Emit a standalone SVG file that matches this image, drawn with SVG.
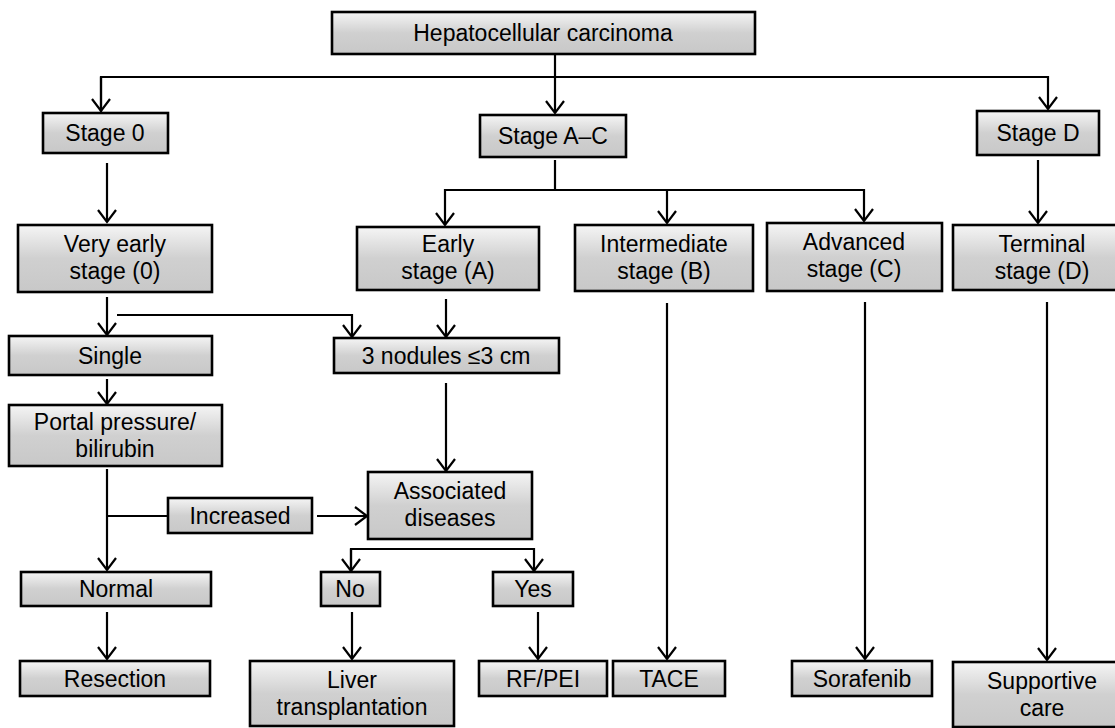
<svg xmlns="http://www.w3.org/2000/svg" width="1115" height="728" viewBox="0 0 1115 728">
<defs>
<linearGradient id="g" x1="0" y1="0" x2="0" y2="1">
<stop offset="0" stop-color="#f5f5f5"/>
<stop offset="0.5" stop-color="#d0d0d0"/>
<stop offset="1" stop-color="#c8c8c8"/>
</linearGradient>
<marker id="a" markerUnits="userSpaceOnUse" viewBox="-15 -12 17 24" markerWidth="17" markerHeight="24" refX="0" refY="0" orient="auto" overflow="visible">
<path d="M-12,-9 L0,0 L-12,9" fill="none" stroke="#000" stroke-width="2.2"/>
</marker>
</defs>
<style>
.b{fill:url(#g);stroke:#000;stroke-width:2.6}
.t{font-family:"Liberation Sans",Arial,sans-serif;font-size:23px;fill:#000;text-anchor:middle}
.c path{fill:none;stroke:#000;stroke-width:2.2}
.c .m{marker-end:url(#a)}
</style>
<rect width="1115" height="728" fill="#fff"/>
<g class="c" id="connectors">
<path d="M555,54 V113" class="m"/>
<path d="M101,112 V77 H1048 V109" class="m"/>
<path d="M101,77 V111" class="m"/>
<path d="M107,163 V222" class="m"/>
<path d="M555,160 V190 H445 V225" class="m"/>
<path d="M667,190 V223" class="m"/>
<path d="M555,190 H864 V221" class="m"/>
<path d="M1038,160 V223" class="m"/>
<path d="M107,297 V335" class="m"/>
<path d="M117,315 H352 V337" class="m"/>
<path d="M446,299 V337" class="m"/>
<path d="M107,379 V404" class="m"/>
<path d="M446,383 V471" class="m"/>
<path d="M107,469 V570" class="m"/>
<path d="M107,516 H168"/>
<path d="M317,516 H367" class="m"/>
<path d="M351,571 V549 H534 V571" class="m"/>
<path d="M351,549 V571" class="m"/>
<path d="M107,612 V659" class="m"/>
<path d="M352,612 V659" class="m"/>
<path d="M538,612 V659" class="m"/>
<path d="M667,303 V659" class="m"/>
<path d="M865,302 V659" class="m"/>
<path d="M1047,302 V660" class="m"/>
</g>
<g id="hcc"><rect class="b" x="332" y="12" width="423" height="42"/><text class="t" x="543" y="41">Hepatocellular carcinoma</text></g>
<g id="stage0"><rect class="b" x="43" y="113" width="125" height="40"/><text class="t" x="105" y="141">Stage 0</text></g>
<g id="stageAC"><rect class="b" x="480" y="115" width="146" height="42"/><text class="t" x="553" y="144">Stage A–C</text></g>
<g id="stageD"><rect class="b" x="977" y="111" width="122" height="44"/><text class="t" x="1038" y="141">Stage D</text></g>
<g id="veryearly"><rect class="b" x="18" y="225" width="194" height="67"/><text class="t" x="115" y="252">Very early</text><text class="t" x="115" y="279">stage (0)</text></g>
<g id="early"><rect class="b" x="357" y="227" width="182" height="63"/><text class="t" x="448" y="252">Early</text><text class="t" x="448" y="279">stage (A)</text></g>
<g id="intermediate"><rect class="b" x="575" y="225" width="178" height="66"/><text class="t" x="664" y="252">Intermediate</text><text class="t" x="664" y="279">stage (B)</text></g>
<g id="advanced"><rect class="b" x="767" y="223" width="175" height="68"/><text class="t" x="854" y="250">Advanced</text><text class="t" x="854" y="277">stage (C)</text></g>
<g id="terminal"><rect class="b" x="953" y="225" width="178" height="65"/><text class="t" x="1042" y="252">Terminal</text><text class="t" x="1042" y="279">stage (D)</text></g>
<g id="single"><rect class="b" x="9" y="336" width="203" height="39"/><text class="t" x="110" y="364">Single</text></g>
<g id="nodules"><rect class="b" x="334" y="338" width="225" height="35"/><text class="t" x="446" y="364">3 nodules ≤3 cm</text></g>
<g id="portal"><rect class="b" x="9" y="405" width="213" height="61"/><text class="t" x="115" y="430">Portal pressure/</text><text class="t" x="115" y="457">bilirubin</text></g>
<g id="increased"><rect class="b" x="168" y="498" width="144" height="35"/><text class="t" x="240" y="524">Increased</text></g>
<g id="associated"><rect class="b" x="368" y="472" width="164" height="67"/><text class="t" x="450" y="499">Associated</text><text class="t" x="450" y="526">diseases</text></g>
<g id="normal"><rect class="b" x="21" y="572" width="190" height="34"/><text class="t" x="116" y="597">Normal</text></g>
<g id="no"><rect class="b" x="321" y="572" width="59" height="34"/><text class="t" x="350" y="597">No</text></g>
<g id="yes"><rect class="b" x="493" y="572" width="80" height="34"/><text class="t" x="533" y="597">Yes</text></g>
<g id="resection"><rect class="b" x="20" y="661" width="190" height="35"/><text class="t" x="115" y="687">Resection</text></g>
<g id="liver"><rect class="b" x="250" y="661" width="204" height="65"/><text class="t" x="352" y="688">Liver</text><text class="t" x="352" y="715">transplantation</text></g>
<g id="rfpei"><rect class="b" x="479" y="661" width="128" height="35"/><text class="t" x="543" y="687">RF/PEI</text></g>
<g id="tace"><rect class="b" x="613" y="661" width="112" height="35"/><text class="t" x="669" y="687">TACE</text></g>
<g id="sorafenib"><rect class="b" x="792" y="661" width="140" height="35"/><text class="t" x="862" y="687">Sorafenib</text></g>
<g id="supportive"><rect class="b" x="953" y="662" width="178" height="65"/><text class="t" x="1042" y="689">Supportive</text><text class="t" x="1042" y="716">care</text></g>
</svg>
